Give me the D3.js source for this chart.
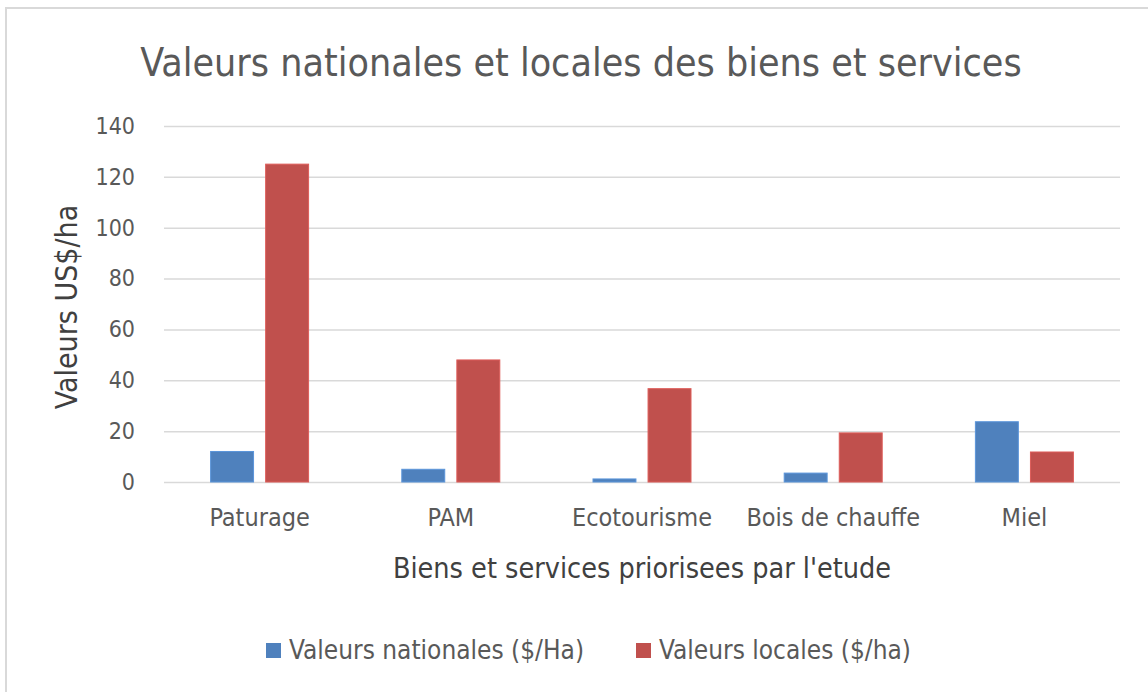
<!DOCTYPE html>
<html>
<head>
<meta charset="utf-8">
<script src="https://cdn.jsdelivr.net/npm/d3@7"></script>
<style>
  html, body { margin: 0; padding: 0; background: #fff; }
  text { font-family: "Liberation Sans Narrow", "DejaVu Sans Condensed", "Open Sans", sans-serif; }
</style>
</head>
<body>
<div id="chart"></div>
<script>
// data
const categories = ["Paturage", "PAM", "Ecotourisme", "Bois de chauffe", "Miel"];
const seriesNames = ["Valeurs nationales ($/Ha)", "Valeurs locales ($/ha)"];
const nationalValues = [12, 5, 1.2, 3.5, 23.7];
const localValues = [125, 48, 36.7, 19.3, 11.8];
const yTicks = [0, 20, 40, 60, 80, 100, 120, 140];
const colors = ["#4F81BD", "#C0504D"];

const W = 1148, H = 692;
const margin = {top: 126, right: 28, bottom: 210, left: 164};
const width = W - margin.left - margin.right;
const height = H - margin.top - margin.bottom;

const svg = d3.select("#chart").append("svg")
    .attr("width", W)
    .attr("height", H);

// chart frame (only top/left edges fall inside the picture)
svg.append("rect")
    .attr("x", 6).attr("y", 8)
    .attr("width", W + 20).attr("height", H + 20)
    .attr("fill", "#fff")
    .attr("stroke", "#D9D9D9")
    .attr("stroke-width", 2);

const g = svg.append("g").attr("transform", `translate(${margin.left},${margin.top})`);

const rows = categories.map((c, i) => ({cat: c, values: [nationalValues[i], localValues[i]]}));

const x0 = d3.scaleBand().domain(categories).range([0, width]).padding(0);
const x1 = d3.scaleBand().domain([0, 1]).range([0, 98]).paddingInner(0.22);
const y = d3.scaleLinear().domain([0, 140]).range([height, 0]);

// gridlines + tick labels
g.append("g")
    .call(d3.axisLeft(y).tickValues(yTicks).tickSize(-width).tickPadding(29))
    .call(a => a.select(".domain").remove())
    .call(a => a.selectAll(".tick line").attr("stroke", "#D9D9D9").attr("stroke-width", 1.5))
    .call(a => a.selectAll(".tick text")
        .attr("fill", "#595959").attr("font-size", 23)
        .style("font-family", "'Liberation Sans Narrow', 'DejaVu Sans Condensed', sans-serif"));

// bars
const groups = g.selectAll(".grp")
    .data(rows)
    .join("g")
    .attr("transform", d => `translate(${x0(d.cat) + (x0.bandwidth() - 98) / 2},0)`);

groups.selectAll("rect")
    .data(d => d.values.map((v, k) => ({k, v})))
    .join("rect")
    .attr("x", d => x1(d.k))
    .attr("width", x1.bandwidth())
    .attr("y", d => y(d.v))
    .attr("height", d => y(0) - y(d.v))
    .attr("fill", d => colors[d.k])
    .attr("stroke", d => d3.color(colors[d.k]).brighter(0.4))
    .attr("stroke-width", 1);

// category labels
g.append("g")
    .attr("transform", `translate(0,${height})`)
    .call(d3.axisBottom(x0).tickSize(0).tickPadding(26))
    .call(a => a.select(".domain").remove())
    .call(a => a.selectAll(".tick text")
        .attr("fill", "#595959").attr("font-size", 25)
        .style("font-family", "'Liberation Sans Narrow', 'DejaVu Sans Condensed', sans-serif"));

// title
svg.append("text")
    .attr("x", 581).attr("y", 76)
    .attr("text-anchor", "middle")
    .attr("font-size", 39)
    .attr("font-weight", 300)
    .attr("fill", "#595959")
    .text("Valeurs nationales et locales des biens et services");

// axis titles
svg.append("text")
    .attr("transform", "translate(77,307) rotate(-90)")
    .attr("text-anchor", "middle")
    .attr("font-size", 30)
    .attr("fill", "#404040")
    .text("Valeurs US$/ha");

svg.append("text")
    .attr("x", 642).attr("y", 578)
    .attr("text-anchor", "middle")
    .attr("font-size", 28.5)
    .attr("fill", "#404040")
    .text("Biens et services priorisees par l'etude");

// legend
const legend = svg.append("g");
const legendX = [266, 636];
seriesNames.forEach((name, k) => {
    const item = legend.append("g").attr("transform", `translate(${legendX[k]},643)`);
    item.append("rect").attr("width", 15).attr("height", 15).attr("fill", colors[k]);
    item.append("text").attr("x", 23).attr("y", 16)
        .attr("font-size", 26).attr("fill", "#595959").text(name);
});
</script>
</body>
</html>
